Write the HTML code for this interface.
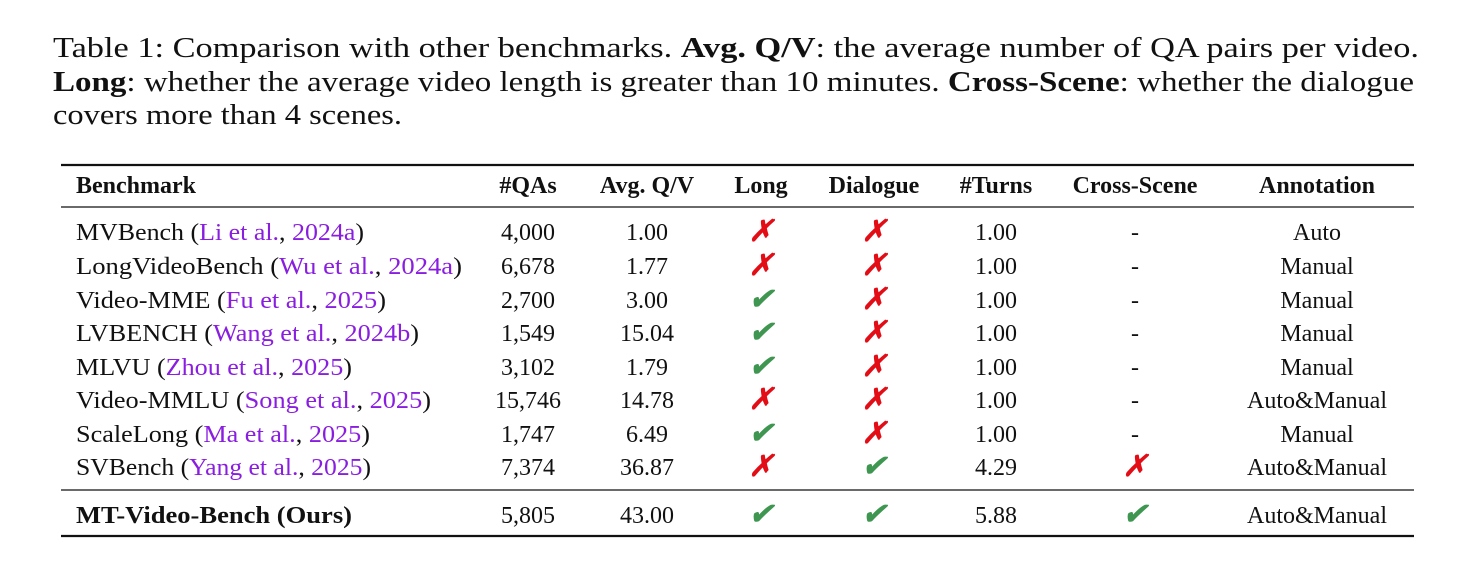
<!DOCTYPE html>
<html><head><meta charset="utf-8">
<style>
html,body{margin:0;padding:0;background:#fff;}
svg{display:block;}
text{font-family:"Liberation Serif",serif;fill:#111;}
.c{fill:#8a1ee0;}
</style></head>
<body>
<svg id="t" width="1472" height="566" viewBox="0 0 1472 566" xmlns="http://www.w3.org/2000/svg">
<g font-size="28">
<text x="53" y="57" textLength="1366" lengthAdjust="spacingAndGlyphs">Table 1: Comparison with other benchmarks.  <tspan font-weight="bold">Avg. Q/V</tspan>: the average number of QA pairs per video.</text>
<text x="53" y="91" textLength="1361" lengthAdjust="spacingAndGlyphs"><tspan font-weight="bold">Long</tspan>: whether the average video length is greater than 10 minutes. <tspan font-weight="bold">Cross-Scene</tspan>: whether the dialogue</text>
<text x="53" y="124" textLength="349" lengthAdjust="spacingAndGlyphs">covers more than 4 scenes.</text>
</g>
<g stroke="#111">
<line x1="61" x2="1414" y1="165" y2="165" stroke-width="2.2"/>
<line x1="61" x2="1414" y1="207" y2="207" stroke-width="1.3"/>
<line x1="61" x2="1414" y1="490" y2="490" stroke-width="1.3"/>
<line x1="61" x2="1414" y1="536" y2="536" stroke-width="2.2"/>
</g>
<g id="body"></g>
</svg>
<script>
const headers=["Benchmark","#QAs","Avg. Q/V","Long","Dialogue","#Turns","Cross-Scene","Annotation"];
const names=["MVBench","LongVideoBench","Video-MME","LVBENCH","MLVU","Video-MMLU","ScaleLong","SVBench","MT-Video-Bench (Ours)"];
const cites=[["Li et al.","2024a"],["Wu et al.","2024a"],["Fu et al.","2025"],["Wang et al.","2024b"],["Zhou et al.","2025"],["Song et al.","2025"],["Ma et al.","2025"],["Yang et al.","2025"],null];
const nameWidths=[288,386,310,343,276,355,294,295,276];
const qas=["4,000","6,678","2,700","1,549","3,102","15,746","1,747","7,374","5,805"];
const avgqv=["1.00","1.77","3.00","15.04","1.79","14.78","6.49","36.87","43.00"];
const longs=[0,0,1,1,1,0,1,0,1];
const dialogue=[0,0,0,0,0,0,0,1,1];
const turns=["1.00","1.00","1.00","1.00","1.00","1.00","1.00","4.29","5.88"];
const cross=[null,null,null,null,null,null,null,0,1];
const annot=["Auto","Manual","Manual","Manual","Manual","Auto&Manual","Manual","Auto&Manual","Auto&Manual"];
const colX=[76,528,647,761,874,996,1135,1317];
const rowY=[231,265,299,332,366,399,433,466,514];
const NS="http://www.w3.org/2000/svg";
const g=document.getElementById('body');
function txt(x,y,s,opts){const t=document.createElementNS(NS,'text');t.setAttribute('x',x);t.setAttribute('y',y);t.setAttribute('font-size',opts.size||24);if(opts.anchor)t.setAttribute('text-anchor',opts.anchor);if(opts.bold)t.setAttribute('font-weight','bold');if(opts.fill)t.setAttribute('style','fill:'+opts.fill);t.textContent=s;g.appendChild(t);return t;}
headers.forEach((h,i)=>{const t=txt(colX[i],193,h,{bold:true,anchor:i?'middle':'start'});

});
function mark(x,y,ok,name){const t=txt(x,y+10,ok?'✔':'✗',{anchor:'middle',size:30,fill:ok?'#3f9650':'#e30d16'});t.setAttribute('font-family','DejaVu Sans');t.setAttribute('font-style','italic');
t.setAttribute('stroke',ok?'#3f9650':'#e30d16');t.setAttribute('stroke-width','0.8');

}
names.forEach((n,r)=>{const y=rowY[r]+9;const last=r===names.length-1;
const t=document.createElementNS(NS,'text');t.setAttribute('x',76);t.setAttribute('y',y);t.setAttribute('font-size',24);
t.setAttribute('textLength',nameWidths[r]);t.setAttribute('lengthAdjust','spacingAndGlyphs');
if(last){t.setAttribute('font-weight','bold');t.textContent=n;}
else{t.innerHTML=n+' (<tspan class="c">'+cites[r][0]+'</tspan>, <tspan class="c">'+cites[r][1]+'</tspan>)';}


g.appendChild(t);
let c=txt(colX[1],y,qas[r],{anchor:'middle'});
c=txt(colX[2],y,avgqv[r],{anchor:'middle'});
mark(colX[3],rowY[r],longs[r],'long-mark');
mark(colX[4],rowY[r],dialogue[r],'dialogue-mark');
c=txt(colX[5],y,turns[r],{anchor:'middle'});
if(cross[r]===null){c=txt(colX[6],y,'-',{anchor:'middle'});}
else mark(colX[6],rowY[r],cross[r],'cross-scene-mark');
c=txt(colX[7],y,annot[r],{anchor:'middle'});
});
</script>
</body></html>
